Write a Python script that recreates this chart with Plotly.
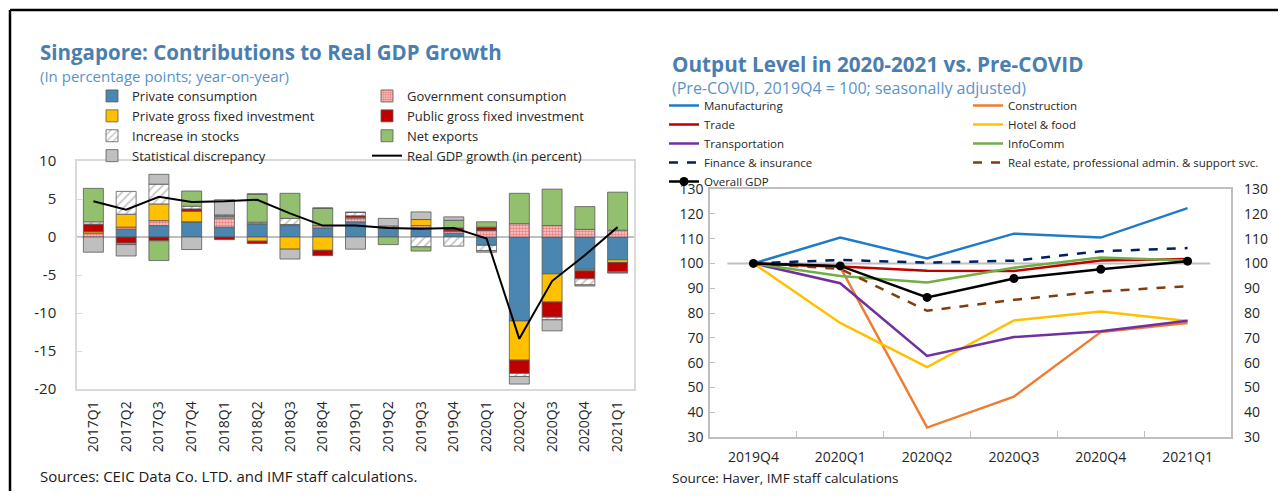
import plotly.graph_objects as go

# ---------------- Left chart data ----------------
quarters = ["2017Q1", "2017Q2", "2017Q3", "2017Q4", "2018Q1", "2018Q2", "2018Q3", "2018Q4",
            "2019Q1", "2019Q2", "2019Q3", "2019Q4", "2020Q1", "2020Q2", "2020Q3", "2020Q4", "2021Q1"]
private_consumption = [0.0, 1.0, 1.5, 2.0, 1.3, 1.75, 1.5, 1.2, 2.0, 1.2, 1.2, 0.5, -1.1, -11.05, -4.85, -4.25, -3.0]
government_consumption = [0.5, 0.3, 0.65, 0.0, 1.2, 0.0, 0.15, 0.3, 0.5, 0.1, 0.3, 0.3, 0.9, 1.75, 1.5, 1.0, 0.9]
private_gfi = [0.2, 1.7, 2.2, 1.4, 0.2, -0.55, -1.6, -1.75, 0.1, 0.0, 0.8, 0.0, 0.0, -5.15, -3.7, -0.2, -0.35]
public_gfi = [1.0, -0.8, -0.5, 0.3, -0.35, -0.3, 0.0, -0.7, 0.2, 0.0, 0.0, 0.4, 0.4, -1.75, -2.0, -1.05, -1.2]
increase_in_stocks = [0.3, 3.0, 2.6, 0.35, 0.2, 0.2, 0.8, 0.0, 0.45, 0.15, -1.3, -1.2, -0.7, -0.4, -0.35, -0.8, -0.1]
net_exports = [4.4, -0.2, -2.6, 2.0, 0.0, 3.7, 3.3, 2.3, 0.0, -1.0, -0.55, 1.0, 0.7, 4.0, 4.8, 3.0, 5.0]
stat_discrepancy = [-2.0, -1.5, 1.3, -1.65, 2.0, 0.0, -1.3, 0.0, -1.6, 1.0, 1.0, 0.45, -0.2, -1.0, -1.45, -0.15, -0.1]
real_gdp_growth = [4.7, 3.6, 5.3, 4.6, 4.7, 4.9, 3.1, 1.5, 1.5, 1.2, 1.1, 1.2, -0.2, -13.4, -5.8, -2.4, 1.3]
left_yticks = [10, 5, 0, -5, -10, -15, -20]

# ---------------- Right chart data ----------------
periods = ["2019Q4", "2020Q1", "2020Q2", "2020Q3", "2020Q4", "2021Q1"]
manufacturing = [100, 110.4, 102.0, 112.0, 110.4, 122.3]
construction = [100, 98.5, 33.8, 46.3, 72.3, 76.0]
trade = [100, 98.8, 97.0, 96.9, 101.2, 101.8]
hotel_food = [100, 76.0, 58.2, 77.0, 80.6, 76.8]
transportation = [100, 92.0, 62.7, 70.3, 72.6, 76.9]
infocomm = [100, 94.9, 92.3, 98.2, 102.4, 101.2]
finance = [100, 101.4, 100.3, 101.1, 104.9, 106.2]
real_estate = [100, 97.8, 80.9, 85.3, 88.7, 90.8]
overall_gdp = [100, 99.0, 86.3, 93.9, 97.6, 100.9]
right_yticks = [30, 40, 50, 60, 70, 80, 90, 100, 110, 120, 130]

# page is 1286x499 with an 8px body margin around the figure div
OX, OY = 8, 8
FW, FH = 1270, 483
def px(x):
    return (x - OX) / FW
def py(y):
    return 1 - (y - OY) / FH

fig = go.Figure()
edge = dict(color="#595959", width=0.8)

bar_specs = [
    ("Private consumption", private_consumption, dict(color="#4A86B0", line=edge), "legend"),
    ("Government consumption", government_consumption,
     dict(color="#F4B6B6", line=edge,
          pattern=dict(shape=".", fgcolor="#E03030", bgcolor="#F8CFCF", size=3, solidity=0.55)), "legend2"),
    ("Private gross fixed investment", private_gfi, dict(color="#FFC000", line=edge), "legend"),
    ("Public gross fixed investment", public_gfi, dict(color="#C00000", line=edge), "legend2"),
    ("Increase in stocks", increase_in_stocks,
     dict(color="white", line=edge,
          pattern=dict(shape="/", fgcolor="#8C8C8C", bgcolor="white", size=6, solidity=0.3)), "legend"),
    ("Net exports", net_exports, dict(color="#93C06E", line=edge), "legend2"),
    ("Statistical discrepancy", stat_discrepancy, dict(color="#BFBFBF", line=edge), "legend"),
]
for name, vals, marker, leg in bar_specs:
    fig.add_trace(go.Bar(x=quarters, y=vals, name=name, marker=marker, legend=leg,
                         xaxis="x", yaxis="y"))

fig.add_trace(go.Scatter(x=quarters, y=real_gdp_growth, name="Real GDP growth (in percent)",
                         mode="lines", line=dict(color="black", width=2), legend="legend2",
                         xaxis="x", yaxis="y"))

line_specs = [
    ("Manufacturing", manufacturing, dict(color="#1F7BC8", width=2.5), "legend3"),
    ("Construction", construction, dict(color="#ED7D31", width=2.5), "legend4"),
    ("Trade", trade, dict(color="#C00000", width=2.5), "legend3"),
    ("Hotel & food", hotel_food, dict(color="#FFC000", width=2.5), "legend4"),
    ("Transportation", transportation, dict(color="#7030A0", width=2.5), "legend3"),
    ("InfoComm", infocomm, dict(color="#70AD47", width=2.5), "legend4"),
    ("Finance & insurance", finance, dict(color="#002060", width=2.5, dash="dash"), "legend3"),
    ("Real estate, professional admin. & support svc.", real_estate,
     dict(color="#843C0C", width=2.5, dash="dash"), "legend4"),
]
for name, vals, line, leg in line_specs:
    fig.add_trace(go.Scatter(x=periods, y=vals, name=name, mode="lines", line=line,
                             legend=leg, xaxis="x2", yaxis="y2"))

fig.add_trace(go.Scatter(x=periods, y=overall_gdp, name="Overall GDP", mode="lines+markers",
                         line=dict(color="black", width=2.5), marker=dict(color="black", size=9),
                         legend="legend3", xaxis="x2", yaxis="y2"))
# invisible companion so the right-hand axis is drawn
fig.add_trace(go.Scatter(x=periods, y=overall_gdp, mode="lines", opacity=0, showlegend=False,
                         hoverinfo="skip", xaxis="x2", yaxis="y3"))

font_main = "Open Sans"
axis_font = dict(family=font_main, size=14, color="#262626")
left_y_font = dict(family=font_main, size=15, color="#262626")

fig.update_layout(
    width=FW, height=FH,
    margin=dict(l=0, r=0, t=0, b=0, pad=0, autoexpand=False),
    paper_bgcolor="white", plot_bgcolor="white",
    font=dict(family=font_main, color="#262626"),
    barmode="relative", bargap=0.39,
    xaxis=dict(domain=[px(77), px(634)], anchor="y", type="category", range=[-0.5, 16.5],
               tickangle=-90, tickfont=axis_font, showline=True, mirror=True,
               linecolor="#D9D9D9", linewidth=1.5, ticks="", showgrid=False,
               ticklabelstandoff=5, automargin=False),
    yaxis=dict(domain=[py(389), py(161)], anchor="x", range=[-20, 10],
               tickvals=left_yticks, ticktext=[str(v) for v in left_yticks],
               tickfont=left_y_font, showgrid=False, zeroline=True, zerolinecolor="#BFBFBF",
               zerolinewidth=1.5, showline=True, mirror=True, linecolor="#D9D9D9", linewidth=1.5,
               ticks="inside", ticklen=5, tickcolor="#D9D9D9", ticklabelstandoff=16,
               automargin=False),
    xaxis2=dict(domain=[px(710), px(1231)], anchor="y2", type="category", range=[-0.5, 5.5],
                tickfont=axis_font, showline=True, mirror=True, linecolor="#BFBFBF", linewidth=1.5,
                ticks="inside", tickson="boundaries", ticklen=6, tickcolor="#BFBFBF",
                showgrid=False, ticklabelstandoff=6, automargin=False),
    yaxis2=dict(domain=[py(437), py(189)], anchor="x2", range=[30, 130],
                tickvals=right_yticks, tickfont=axis_font, showgrid=False, zeroline=False,
                showline=True, mirror=True, linecolor="#BFBFBF", linewidth=1.5,
                ticks="inside", ticklen=5, tickcolor="#BFBFBF", ticklabelstandoff=2,
                automargin=False),
    yaxis3=dict(overlaying="y2", anchor="x2", side="right", range=[30, 130],
                tickvals=right_yticks, tickfont=axis_font, showgrid=False, zeroline=False,
                showline=False, ticks="", ticklabelstandoff=12, automargin=False),
)

leg_common = dict(bgcolor="rgba(0,0,0,0)", borderwidth=0, orientation="v", traceorder="normal",
                  xanchor="left", yanchor="top", itemclick=False, itemdoubleclick=False)
fig.update_layout(
    legend=dict(x=px(92), y=py(81), font=dict(family=font_main, size=13, color="#262626"), **leg_common),
    legend2=dict(x=px(367), y=py(81), font=dict(family=font_main, size=13, color="#262626"), **leg_common),
    legend3=dict(x=px(664), y=py(91), font=dict(family=font_main, size=11.5, color="#262626"), **leg_common),
    legend4=dict(x=px(968), y=py(91), font=dict(family=font_main, size=11.5, color="#262626"), **leg_common),
)

title_blue = "#4A7EB0"
sub_blue = "#5B93C9"
annos = [
    dict(text="<b>Singapore: Contributions to Real GDP Growth</b>", x=px(38), y=py(52),
         font=dict(size=20.5, color=title_blue)),
    dict(text="(In percentage points; year-on-year)", x=px(38), y=py(76),
         font=dict(size=15, color=sub_blue)),
    dict(text="<b>Output Level in 2020-2021 vs. Pre-COVID</b>", x=px(670), y=py(64),
         font=dict(size=20.7, color=title_blue)),
    dict(text="(Pre-COVID, 2019Q4 = 100; seasonally adjusted)", x=px(670), y=py(88),
         font=dict(size=16, color=sub_blue)),
    dict(text="Sources: CEIC Data Co. LTD. and IMF staff calculations.", x=px(38), y=py(476),
         font=dict(size=15, color="#1A1A1A")),
    dict(text="Source: Haver, IMF staff calculations", x=px(670), y=py(478),
         font=dict(size=13.5, color="#1A1A1A")),
]
for a in annos:
    fig.add_annotation(xref="paper", yref="paper", xanchor="left", yanchor="middle",
                       showarrow=False, **a)

# 100 reference line on the right chart
fig.add_shape(type="line", xref="x2", yref="y2", x0=-0.3, x1=5.26, y0=100, y1=100,
              line=dict(color="#BFBFBF", width=2), layer="below")

# frame lines (top and left)
fig.add_shape(type="line", xref="paper", yref="paper", x0=px(10), x1=1, y0=py(10), y1=py(10),
              line=dict(color="black", width=2.5))
fig.add_shape(type="line", xref="paper", yref="paper", x0=px(10), x1=px(10), y0=py(10), y1=0,
              line=dict(color="black", width=2.5))

fig.write_html("out.html")
